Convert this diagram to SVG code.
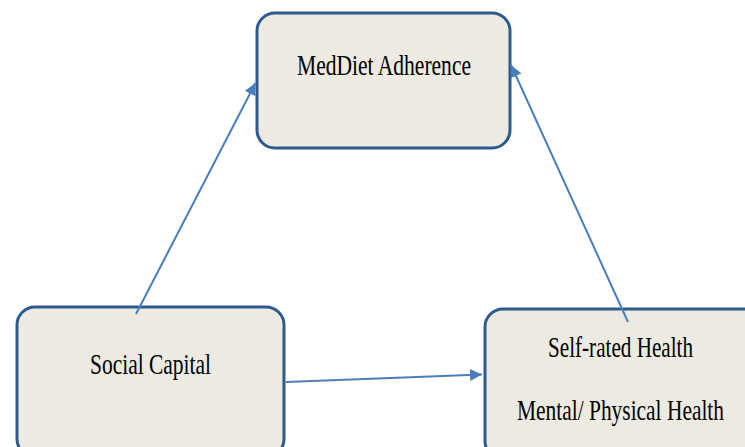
<svg xmlns="http://www.w3.org/2000/svg" width="745" height="447" viewBox="0 0 745 447">
<defs>
<style>
.box{fill:#EDEBE1;stroke:#2E5A8E;stroke-width:3}
.lbl{font-family:"Liberation Serif","Times New Roman",serif;font-size:30px;fill:#000}
.con{stroke:#4A7EBB;stroke-width:2;fill:none}
</style>
<marker id="ah" viewBox="0 0 10 10" refX="10" refY="5" markerWidth="6" markerHeight="6" orient="auto" markerUnits="strokeWidth">
<path d="M0,0 L10,5 L0,10 z" fill="#4A7EBB"/>
</marker>
</defs>
<rect width="745" height="447" fill="#fff"/>
<g id="meddiet">
<rect class="box" x="257" y="13" width="253" height="135" rx="18"/>
<text class="lbl" x="297" y="75" textLength="174" lengthAdjust="spacingAndGlyphs">MedDiet Adherence</text>
</g>
<g id="social">
<rect class="box" x="17" y="307" width="267" height="150" rx="18"/>
<text class="lbl" x="90" y="374" textLength="121" lengthAdjust="spacingAndGlyphs">Social Capital</text>
</g>
<g id="health">
<rect class="box" x="485" y="309" width="280" height="150" rx="18"/>
<text class="lbl" x="548" y="357" textLength="145" lengthAdjust="spacingAndGlyphs">Self-rated Health</text>
<text class="lbl" x="517" y="420" textLength="207" lengthAdjust="spacingAndGlyphs">Mental/ Physical Health</text>
</g>
<g id="connectors">
<line class="con" x1="136" y1="314" x2="255.5" y2="83" marker-end="url(#ah)"/>
<line class="con" x1="628" y1="322" x2="511" y2="65" marker-end="url(#ah)"/>
<line class="con" x1="286" y1="382" x2="482" y2="374.5" marker-end="url(#ah)"/>
</g>
</svg>
